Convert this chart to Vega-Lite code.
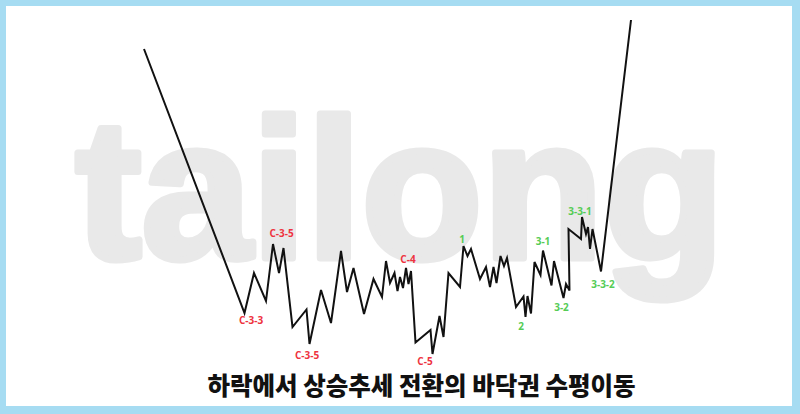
{
  "$schema": "https://vega.github.io/schema/vega-lite/v6.json",
  "autosize": {"type": "fit", "contains": "padding"},
  "width": 800,
  "height": 414,
  "padding": {"left": 6, "top": 6, "right": 8, "bottom": 8},
  "background": "#a6dcf2",
  "config": {"view": {"fill": "white", "stroke": null}},
  "datasets": {
    "path": [
      {"i": 1, "x": 144, "y": 49}, {"i": 2, "x": 244.5, "y": 313}, {"i": 3, "x": 254, "y": 273},
      {"i": 4, "x": 266, "y": 301}, {"i": 5, "x": 273, "y": 244}, {"i": 6, "x": 279, "y": 273},
      {"i": 7, "x": 283.5, "y": 248}, {"i": 8, "x": 292.5, "y": 327}, {"i": 9, "x": 306.5, "y": 309.5},
      {"i": 10, "x": 309.5, "y": 344}, {"i": 11, "x": 321, "y": 290}, {"i": 12, "x": 331, "y": 323},
      {"i": 13, "x": 341, "y": 251}, {"i": 14, "x": 347, "y": 292}, {"i": 15, "x": 353.5, "y": 268},
      {"i": 16, "x": 364, "y": 314}, {"i": 17, "x": 373.5, "y": 279}, {"i": 18, "x": 382, "y": 297},
      {"i": 19, "x": 386, "y": 261}, {"i": 20, "x": 390, "y": 283}, {"i": 21, "x": 394.5, "y": 273},
      {"i": 22, "x": 397.5, "y": 291}, {"i": 23, "x": 400, "y": 277}, {"i": 24, "x": 403, "y": 288},
      {"i": 25, "x": 406, "y": 268}, {"i": 26, "x": 408.5, "y": 284}, {"i": 27, "x": 411, "y": 271},
      {"i": 28, "x": 415.5, "y": 342.5}, {"i": 29, "x": 430.5, "y": 330}, {"i": 30, "x": 432.5, "y": 354},
      {"i": 31, "x": 439.5, "y": 316}, {"i": 32, "x": 443.5, "y": 337}, {"i": 33, "x": 448.5, "y": 273},
      {"i": 34, "x": 460, "y": 287}, {"i": 35, "x": 463.5, "y": 246}, {"i": 36, "x": 467.5, "y": 256},
      {"i": 37, "x": 471, "y": 249}, {"i": 38, "x": 480, "y": 279}, {"i": 39, "x": 486, "y": 267},
      {"i": 40, "x": 490, "y": 287}, {"i": 41, "x": 493.5, "y": 267}, {"i": 42, "x": 496.5, "y": 283},
      {"i": 43, "x": 500.5, "y": 256}, {"i": 44, "x": 504, "y": 266}, {"i": 45, "x": 507, "y": 258},
      {"i": 46, "x": 516, "y": 307}, {"i": 47, "x": 523.5, "y": 296.5}, {"i": 48, "x": 525.5, "y": 317},
      {"i": 49, "x": 527.5, "y": 296}, {"i": 50, "x": 531, "y": 313.5}, {"i": 51, "x": 534.5, "y": 262},
      {"i": 52, "x": 540.5, "y": 275}, {"i": 53, "x": 543, "y": 250.5}, {"i": 54, "x": 551.5, "y": 285.5},
      {"i": 55, "x": 554, "y": 261}, {"i": 56, "x": 563.5, "y": 298}, {"i": 57, "x": 566, "y": 284},
      {"i": 58, "x": 569.5, "y": 290.5}, {"i": 59, "x": 568.5, "y": 229}, {"i": 60, "x": 581, "y": 239},
      {"i": 61, "x": 582, "y": 217}, {"i": 62, "x": 586, "y": 234}, {"i": 63, "x": 588, "y": 227},
      {"i": 64, "x": 590, "y": 249}, {"i": 65, "x": 592.5, "y": 229}, {"i": 66, "x": 601, "y": 271.5},
      {"i": 67, "x": 631, "y": 20}
    ],
    "labels": [
      {"x": 251, "y": 321, "t": "C-3-3", "g": "down"},
      {"x": 281.5, "y": 234, "t": "C-3-5", "g": "down"},
      {"x": 307, "y": 356, "t": "C-3-5", "g": "down"},
      {"x": 408, "y": 260, "t": "C-4", "g": "down"},
      {"x": 425, "y": 362, "t": "C-5", "g": "down"},
      {"x": 462, "y": 240, "t": "1", "g": "up"},
      {"x": 521, "y": 327, "t": "2", "g": "up"},
      {"x": 543, "y": 242, "t": "3-1", "g": "up"},
      {"x": 561.5, "y": 308, "t": "3-2", "g": "up"},
      {"x": 580, "y": 212, "t": "3-3-1", "g": "up"},
      {"x": 603, "y": 285, "t": "3-3-2", "g": "up"}
    ],
    "mark": [{"x": 400, "y": 258, "t": "tailong"}],
    "title": [{"x": 421.5, "y": 388, "t": "하락에서 상승추세 전환의 바닥권 수평이동"}]
  },
  "layer": [
    {
      "data": {"name": "mark"},
      "mark": {"type": "text", "font": "Liberation Sans", "fontWeight": "bold", "fontSize": 198, "color": "#e9e9e9", "stroke": "#e9e9e9", "strokeWidth": 7, "strokeJoin": "round", "align": "center", "baseline": "alphabetic"},
      "encoding": {
        "x": {"field": "x", "type": "quantitative", "scale": {"domain": [6, 792], "nice": false, "zero": false}, "axis": null},
        "y": {"field": "y", "type": "quantitative", "scale": {"domain": [6, 406], "nice": false, "zero": false, "reverse": true}, "axis": null},
        "text": {"field": "t"}
      }
    },
    {
      "data": {"name": "path"},
      "mark": {"type": "line", "color": "#111111", "strokeWidth": 2, "strokeJoin": "miter"},
      "encoding": {
        "x": {"field": "x", "type": "quantitative"},
        "y": {"field": "y", "type": "quantitative"},
        "order": {"field": "i", "type": "quantitative"}
      }
    },
    {
      "data": {"name": "labels"},
      "mark": {"type": "text", "font": "Open Sans", "fontWeight": "bold", "fontSize": 10, "align": "center", "baseline": "middle"},
      "encoding": {
        "x": {"field": "x", "type": "quantitative"},
        "y": {"field": "y", "type": "quantitative"},
        "text": {"field": "t"},
        "color": {"field": "g", "type": "nominal", "scale": {"domain": ["down", "up"], "range": ["#ee3340", "#55cc55"]}, "legend": null}
      }
    },
    {
      "data": {"name": "title"},
      "mark": {"type": "text", "font": "Noto Sans CJK KR", "fontWeight": 900, "fontSize": 24.5, "color": "#111111", "align": "center", "baseline": "middle"},
      "encoding": {
        "x": {"field": "x", "type": "quantitative"},
        "y": {"field": "y", "type": "quantitative"},
        "text": {"field": "t"}
      }
    }
  ]
}
